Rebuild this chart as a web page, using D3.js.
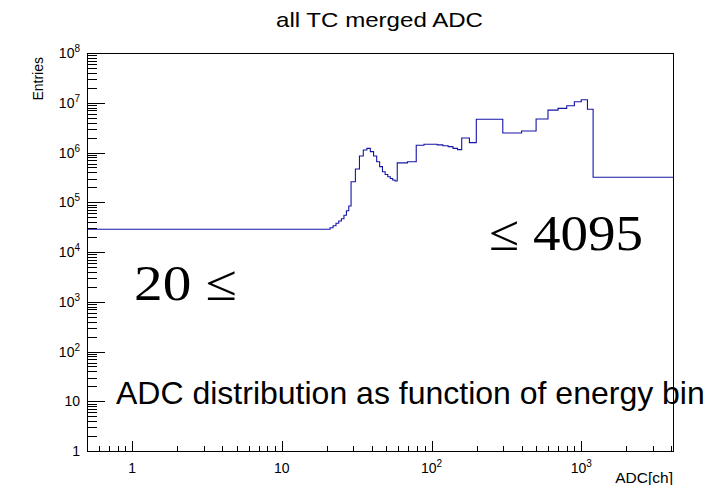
<!DOCTYPE html>
<html>
<head>
<meta charset="utf-8">
<script src="https://d3js.org/d3.v7.min.js"></script>
<style>
  html, body { margin: 0; padding: 0; background: #fff; }
  svg { display: block; }
  text { font-family: "Liberation Sans", Arial, Helvetica, sans-serif; fill: #000; }
  text.serif { font-family: "Liberation Serif", "DejaVu Serif", serif; }
</style>
</head>
<body>
<svg id="chart" width="728" height="485"></svg>
<script>
// Bin low/high edges in ADC channels (first bin begins at the axis minimum)
const binEdges = [0.5, 21, 22, 23, 24, 25, 26, 27, 28, 29,
  31, 33, 35, 37, 39, 41, 43, 45, 47, 49, 51, 53, 55, 57, 59,
  69, 79, 89, 99, 109, 119, 129, 139, 149, 159, 179, 199,
  299, 399, 499, 599, 699, 799, 899, 999, 1099, 1199, 4095];

// Entries per bin
const binCounts = [2.86e4, 3.08e4, 3.38e4, 3.78e4, 4.2e4, 4.67e4, 5.46e4, 6.76e4, 8.4e4,
  2.59e5, 4.66e5, 8.5e5, 1.12e6, 1.21e6, 1.04e6, 8.5e5, 6.5e5, 5.2e5, 4.1e5, 3.6e5, 3.25e5, 3.0e5, 2.8e5, 2.67e5,
  6.2e5, 6.5e5, 1.40e6, 1.46e6, 1.46e6, 1.42e6, 1.37e6, 1.31e6, 1.21e6, 1.14e6,
  1.95e6, 1.58e6,
  4.65e6, 2.47e6, 2.7e6, 4.7e6, 7.1e6, 7.7e6, 8.7e6, 1.05e7, 1.15e7, 7.4e6,
  3.17e5];

const xDomain = [0.5, 4096];
const yDomain = [1, 1e8];
const xMajorTicks = [1, 10, 100, 1000];
const yMajorTicks = [1, 10, 100, 1e3, 1e4, 1e5, 1e6, 1e7, 1e8];

const titleText = "all TC merged ADC";
const xTitle = "ADC[ch]";
const yTitle = "Entries";
const noteLow = "20 \u2264";
const noteHigh = "\u2264 4095";
const noteCaption = "ADC distribution as function of energy bin";

const svg = d3.select("#chart");
const L = 87, R = 673, T = 53, B = 451;

const x = d3.scaleLog().domain(xDomain).range([L, R]);
const y = d3.scaleLog().domain(yDomain).range([B, T]);

// minor ticks: 2..9 times each power of ten inside the domain
function minorTicks(domain) {
  const out = [];
  for (let p = Math.floor(Math.log10(domain[0])); p <= Math.ceil(Math.log10(domain[1])); p++) {
    for (let m = 2; m <= 9; m++) {
      const v = m * Math.pow(10, p);
      if (v > domain[0] * 1.0001 && v < domain[1] * 0.9999) out.push(v);
    }
  }
  return out;
}

// power-of-ten label: "1", "10", then 10 with superscript exponent
function powerLabel(sel, v) {
  const e = Math.round(Math.log10(v));
  if (e === 0) sel.text("1");
  else if (e === 1) sel.text("10");
  else {
    sel.append("tspan").text("10");
    sel.append("tspan").attr("dy", -6).attr("font-size", 10).text(e);
  }
}

// histogram outline (step line)
let d = "M" + x(binEdges[0]) + "," + y(binCounts[0]);
for (let i = 0; i < binCounts.length; i++) {
  if (i > 0) d += "V" + y(binCounts[i]);
  d += "H" + x(binEdges[i + 1]);
}
svg.append("path")
  .attr("d", d)
  .attr("fill", "none")
  .attr("stroke", "#1414a8")
  .attr("stroke-width", 1.1);

// frame
const axes = svg.append("g").attr("shape-rendering", "crispEdges")
  .attr("stroke", "#000").attr("fill", "none");
axes.append("rect")
  .attr("x", L + 0.5).attr("y", T + 0.5)
  .attr("width", R - L).attr("height", B - T)
  .attr("stroke-width", 1);

// x ticks
axes.selectAll(".xmaj").data(xMajorTicks).join("line")
  .attr("x1", v => Math.round(x(v)) + 0.5).attr("x2", v => Math.round(x(v)) + 0.5)
  .attr("y1", B + 0.5).attr("y2", B + 0.5 - 11);
axes.selectAll(".xmin").data(minorTicks(xDomain)).join("line")
  .attr("x1", v => Math.round(x(v)) + 0.5).attr("x2", v => Math.round(x(v)) + 0.5)
  .attr("y1", B + 0.5).attr("y2", B + 0.5 - 5.5);

// y ticks
const yg = svg.append("g").attr("shape-rendering", "crispEdges").attr("stroke", "#000");
yg.selectAll(".ymaj").data(yMajorTicks).join("line")
  .attr("x1", L + 0.5).attr("x2", L + 0.5 + 17.5)
  .attr("y1", v => Math.round(y(v)) + 0.5).attr("y2", v => Math.round(y(v)) + 0.5);
yg.selectAll(".ymin").data(minorTicks(yDomain)).join("line")
  .attr("x1", L + 0.5).attr("x2", L + 0.5 + 9)
  .attr("y1", v => Math.round(y(v)) + 0.5).attr("y2", v => Math.round(y(v)) + 0.5);

// x tick labels
svg.selectAll(".xlab").data(xMajorTicks).join("text")
  .attr("x", v => x(v)).attr("y", B + 22)
  .attr("text-anchor", "middle").attr("font-size", 14)
  .each(function (v) { powerLabel(d3.select(this), v); });

// y tick labels
svg.selectAll(".ylab").data(yMajorTicks).join("text")
  .attr("x", 80).attr("y", v => y(v) + 5)
  .attr("text-anchor", "end").attr("font-size", 14)
  .each(function (v) { powerLabel(d3.select(this), v); });

// axis titles
svg.append("text").attr("x", R).attr("y", 483)
  .attr("text-anchor", "end").attr("font-size", 15.5).text(xTitle);
svg.append("text").attr("transform", "translate(43,57) rotate(-90)")
  .attr("text-anchor", "end").attr("font-size", 14).text(yTitle);

// title
svg.append("text").attr("x", 379.5).attr("y", 27)
  .attr("text-anchor", "middle").attr("font-size", 21)
  .attr("textLength", 207).attr("lengthAdjust", "spacingAndGlyphs")
  .text(titleText);

// annotations
svg.append("text").attr("class", "serif").attr("x", 134).attr("y", 300)
  .attr("font-size", 50).attr("textLength", 103).attr("lengthAdjust", "spacingAndGlyphs")
  .text(noteLow);
svg.append("text").attr("class", "serif").attr("x", 489).attr("y", 250)
  .attr("font-size", 50).attr("textLength", 154).attr("lengthAdjust", "spacingAndGlyphs")
  .text(noteHigh);
svg.append("text").attr("x", 116).attr("y", 404)
  .attr("font-size", 32)
  .text(noteCaption);
</script>
</body>
</html>
